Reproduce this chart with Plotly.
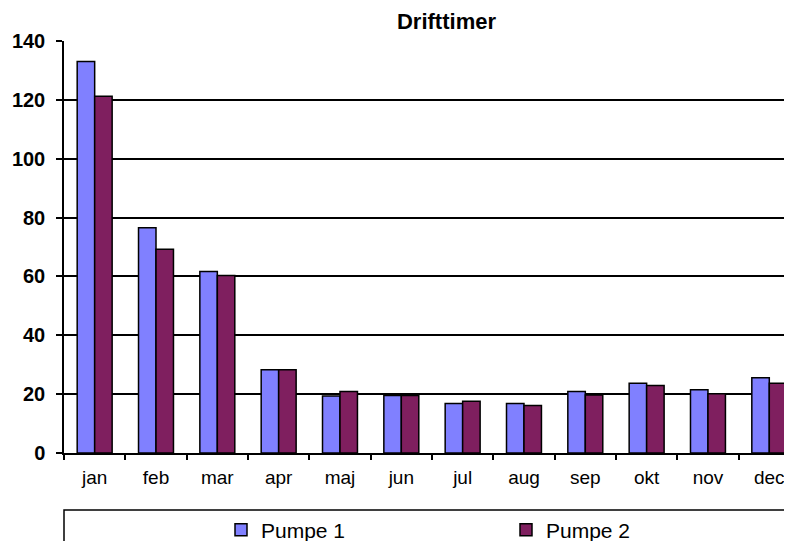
import plotly.graph_objects as go

months = ["jan", "feb", "mar", "apr", "maj", "jun", "jul", "aug", "sep", "okt", "nov", "dec"]
pumpe1 = [133.0, 76.5, 61.7, 28.3, 19.4, 19.5, 16.8, 16.8, 20.9, 23.7, 21.5, 25.6]
pumpe2 = [121.2, 69.2, 60.3, 28.3, 20.9, 19.5, 17.6, 16.1, 19.7, 22.9, 20.1, 23.7]
y_ticks = [0, 20, 40, 60, 80, 100, 120, 140]

FONT = "Liberation Sans, Arial, sans-serif"

# the page puts the figure 8px in from each edge; keep it inside the window
OFF = 8
W, H = 792 - 2 * OFF, 549 - 2 * OFF
L, T = 64 - OFF, 41 - OFF
BOTTOM = 453 - OFF
PW = W - L
PH = BOTTOM - T

fig = go.Figure()
fig.add_trace(go.Bar(name="Pumpe 1", x=months, y=pumpe1,
                     marker=dict(color="#8080FF", line=dict(color="black", width=1.5))))
fig.add_trace(go.Bar(name="Pumpe 2", x=months, y=pumpe2,
                     marker=dict(color="#7F1F5F", line=dict(color="black", width=1.5))))

fig.update_layout(
    width=W, height=H,
    margin=dict(l=L, r=0, t=T, b=H - BOTTOM, pad=0, autoexpand=False),
    paper_bgcolor="white", plot_bgcolor="white",
    barmode="group", bargap=0.43, bargroupgap=0,
    font=dict(family=FONT, color="black"),
    title=dict(text="<b>Drifttimer</b>", x=(446.5 - OFF) / W, xanchor="center",
               y=1, yanchor="top", yref="container", pad=dict(t=6, b=0, l=0, r=0),
               font=dict(size=22, family=FONT, color="black")),
    showlegend=True,
    legend=dict(orientation="h", x=(262 - 41 - OFF - L) / PW, xanchor="left",
                y=(BOTTOM - (530 - OFF)) / PH, yanchor="middle",
                font=dict(size=21, family=FONT, color="black"),
                entrywidth=240, entrywidthmode="pixels", itemwidth=30,
                bgcolor="rgba(0,0,0,0)", traceorder="normal"),
    shapes=[dict(type="rect", xref="paper", yref="paper",
                 x0=0, x1=1.1, y0=(BOTTOM - (510 - OFF)) / PH, y1=-0.5,
                 line=dict(color="black", width=1.5), fillcolor="rgba(0,0,0,0)",
                 layer="below")],
)

fig.update_xaxes(
    type="category", range=[-0.5, -0.5 + PW / 61.33], automargin=False,
    showline=True, linecolor="black", linewidth=1.5,
    ticks="outside", tickson="boundaries", ticklen=5, tickcolor="black", tickwidth=1.5,
    tickfont=dict(size=19, family=FONT, color="black"),
    ticklabelstandoff=6, ticklabeloverflow="allow",
    showgrid=False, zeroline=False,
)
fig.update_yaxes(
    range=[0, 140], tickvals=y_ticks, ticktext=[f"<b>{v}</b>" for v in y_ticks],
    automargin=False,
    showline=True, linecolor="black", linewidth=1.5,
    ticks="outside", ticklen=6, tickcolor="black", tickwidth=1.5,
    tickfont=dict(size=20, family=FONT, color="black"),
    ticklabelstandoff=7,
    showgrid=True, gridcolor="black", gridwidth=1.5, zeroline=False,
)

fig.write_html("out.html")
